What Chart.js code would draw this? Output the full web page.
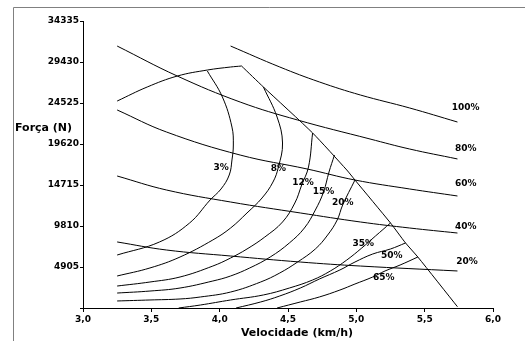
<!DOCTYPE html>
<html>
<head>
<meta charset="utf-8">
<script src="https://cdn.jsdelivr.net/npm/chart.js@4.4.0/dist/chart.umd.min.js"></script>
<style>
  html, body { margin: 0; padding: 0; background: #fff; }
  canvas { display: block; }
</style>
</head>
<body>
<canvas id="tractionChart" width="527" height="341"></canvas>
<script>
// points are [velocidade km/h, força N]

// throttle curves
const throttle100 = [[4.08, 31340], [4.44, 28830], [4.73, 27040], [5.03, 25480], [5.39, 23930], [5.74, 22250]];
const throttle80 = [[3.25, 31340], [3.69, 27750], [4.15, 24640], [4.57, 22490], [5.10, 20220], [5.39, 19020], [5.74, 17830]];
const throttle60 = [[3.25, 23690], [3.61, 21060], [4.15, 18300], [4.64, 16630], [4.99, 15310], [5.39, 14240], [5.74, 13400]];
const throttle40 = [[3.25, 15790], [3.61, 14120], [4.08, 12680], [4.59, 11370], [5.03, 10290], [5.39, 9570], [5.74, 8970]];
const throttle20 = [[3.25, 7900], [3.61, 6940], [4.08, 6220], [4.59, 5500], [5.03, 5020], [5.74, 4430]];

// outer envelope: arc then the limit line
const envelopeArc = [[3.25, 24760], [3.47, 26440], [3.69, 27750], [3.91, 28470], [4.08, 28830], [4.16, 28950]];
const envelopeLimit = [[4.16, 28950], [4.32, 26440], [4.68, 20940], [4.93, 16510], [4.99, 15310], [5.25, 10170], [5.36, 7780], [5.45, 6100], [5.74, 150]];

// slip curves
const slip3 = [[3.91, 28350], [4.02, 25240], [4.09, 21650], [4.10, 19500], [4.09, 17710], [4.07, 15910], [4.01, 14240], [3.93, 12920], [3.78, 10170], [3.56, 7900], [3.25, 6340]];
const slip8 = [[4.32, 26440], [4.42, 22850], [4.46, 19740], [4.43, 16870], [4.39, 15070], [4.31, 13160], [4.20, 11370], [4.08, 9570], [3.95, 8140], [3.71, 6100], [3.49, 4790], [3.25, 3830]];
const slip12 = [[4.68, 20940], [4.65, 16870], [4.60, 14710], [4.55, 12560], [4.46, 10290], [4.33, 8490], [4.20, 7060], [4.08, 5980], [3.95, 5020], [3.71, 3710], [3.49, 3110], [3.25, 2630]];
const slip15 = [[4.84, 18300], [4.80, 16270], [4.76, 13880], [4.70, 11720], [4.62, 9570], [4.51, 7780], [4.37, 6100], [4.22, 4790], [4.08, 3830], [3.95, 3230], [3.71, 2390], [3.49, 2030], [3.25, 1790]];
const slip20 = [[4.99, 15310], [4.90, 12320], [4.86, 10530], [4.79, 8730], [4.70, 7060], [4.57, 5500], [4.44, 4190], [4.30, 3110], [4.08, 1910], [3.86, 1320], [3.71, 1080], [3.49, 960], [3.25, 840]];
const slip35 = [[5.25, 10170], [5.14, 8610], [5.04, 7180], [4.93, 5740], [4.81, 4430], [4.68, 3350], [4.51, 2390], [4.32, 1560], [4.08, 960], [3.86, 360], [3.70, 0]];
const slip50 = [[5.36, 7780], [5.25, 7060], [5.12, 6460], [4.99, 5500], [4.88, 4550], [4.73, 3470], [4.59, 2390], [4.44, 1440], [4.30, 720], [4.12, 0]];
const slip65 = [[5.45, 6100], [5.32, 5140], [5.21, 4430], [5.12, 3710], [4.99, 2870], [4.88, 2150], [4.73, 1320], [4.59, 720], [4.42, 0]];

// curve labels
const labelTexts = ['100%', '80%', '60%', '40%', '20%', '3%', '8%', '12%', '15%', '20%', '35%', '50%', '65%'];
const labelX = [5.80, 5.80, 5.80, 5.80, 5.81, 4.01, 4.43, 4.61, 4.76, 4.90, 5.05, 5.26, 5.20];
const labelY = [23930, 19020, 14830, 9690, 5500, 16750, 16630, 14950, 13880, 12560, 7660, 6220, 3590];

// axes
const xMin = 3, xMax = 6, xStep = 0.5;
const yMin = 0, yMax = 34335, yStep = 4905;
const xTitle = 'Velocidade (km/h)';
const yTitle = 'Força (N)';

const FONT = '"DejaVu Sans", "Liberation Sans", sans-serif';

function toPoints(arr) {
  return arr.map(p => ({ x: p[0], y: p[1] }));
}

function line(arr, tension) {
  return {
    data: toPoints(arr),
    showLine: true,
    borderColor: '#000',
    borderWidth: 1,
    pointRadius: 0,
    tension: tension,
    fill: false
  };
}

const curves = [
  line(throttle100, 0.4), line(throttle80, 0.4), line(throttle60, 0.4),
  line(throttle40, 0.4), line(throttle20, 0.4),
  line(envelopeArc, 0.4), line(envelopeLimit, 0.2),
  line(slip3, 0.4), line(slip8, 0.4), line(slip12, 0.4), line(slip15, 0.4),
  line(slip20, 0.4), line(slip35, 0.4), line(slip50, 0.4), line(slip65, 0.4)
];

// frame, axis titles and curve labels
const extras = {
  id: 'extras',
  beforeDraw(chart) {
    const c = chart.ctx;
    c.save();
    c.strokeStyle = '#808080';
    c.lineWidth = 1;
    c.beginPath();
    c.moveTo(13.5, 341);
    c.lineTo(13.5, 7.5);
    c.lineTo(525, 7.5);
    c.stroke();
    c.restore();
  },
  afterDraw(chart) {
    const c = chart.ctx;
    const xs = chart.scales.x, ys = chart.scales.y;
    c.save();
    c.fillStyle = '#000';
    c.textBaseline = 'middle';

    c.font = 'bold 11px ' + FONT;
    c.textAlign = 'left';
    c.fillText(yTitle, 15, 128);
    c.textAlign = 'center';
    c.fillText(xTitle, 297, 333);

    c.font = 'bold 9px ' + FONT;
    labelTexts.forEach((t, i) => {
      c.fillText(t, xs.getPixelForValue(labelX[i]), ys.getPixelForValue(labelY[i]));
    });
    c.restore();
  }
};

new Chart(document.getElementById('tractionChart'), {
  type: 'scatter',
  data: { datasets: curves },
  options: {
    responsive: false,
    animation: false,
    layout: { padding: { top: 21, right: 34, left: 0, bottom: 0 } },
    plugins: {
      legend: { display: false },
      tooltip: { enabled: false }
    },
    scales: {
      x: {
        type: 'linear',
        min: xMin,
        max: xMax,
        border: { display: true, color: '#000', width: 1 },
        grid: { drawOnChartArea: false, color: '#000', tickLength: 4 },
        ticks: {
          stepSize: xStep,
          color: '#000',
          padding: 2,
          font: { family: FONT, size: 9, weight: 'bold' },
          callback: v => v.toFixed(1).replace('.', ',')
        },
        afterFit: s => { s.height = 33; }
      },
      y: {
        type: 'linear',
        min: yMin,
        max: yMax,
        border: { display: true, color: '#000', width: 1 },
        grid: { drawOnChartArea: false, color: '#000', tickLength: 3 },
        ticks: {
          stepSize: yStep,
          color: '#000',
          padding: 1,
          font: { family: FONT, size: 9, weight: 'bold' },
          callback: v => (v === 0 ? '' : String(Math.round(v)))
        },
        afterFit: s => { s.width = 83; }
      }
    }
  },
  plugins: [extras]
});
</script>
</body>
</html>
